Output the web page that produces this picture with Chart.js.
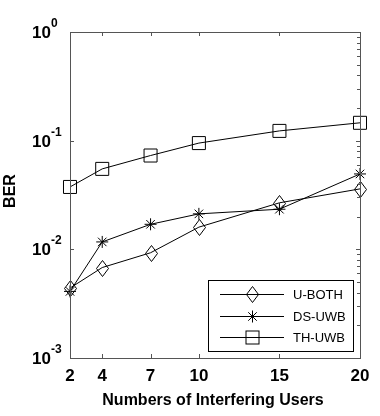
<!DOCTYPE html>
<html>
<head>
<meta charset="utf-8">
<script src="https://cdn.jsdelivr.net/npm/chart.js@4/dist/chart.umd.min.js"></script>
<style>
html,body{margin:0;padding:0;background:#fff;}
#wrap{width:380px;height:416px;position:relative;}
</style>
</head>
<body>
<div id="wrap"><canvas id="c" width="380" height="416"></canvas></div>
<script>
// ---- data ----
const users = [2, 4, 7, 10, 15, 20];
const uBoth = [0.0044, 0.0068, 0.0093, 0.0160, 0.0268, 0.0360];
const dsUwb = [0.0041, 0.0117, 0.0170, 0.0212, 0.0234, 0.0494];
const thUwb = [0.0375, 0.0550, 0.0730, 0.0950, 0.1230, 0.1460];
const seriesNames = ['U-BOTH', 'DS-UWB', 'TH-UWB'];
const xTicks = [2, 4, 7, 10, 15, 20];
const yTickExps = [0, -1, -2, -3];
const xTitle = 'Numbers of Interfering Users';
const yTitle = 'BER';

function pts(vals) { return users.map((u, i) => ({x: u, y: vals[i]})); }

function drawDiamond(ctx, x, y) {
  ctx.beginPath();
  ctx.moveTo(x, y - 8); ctx.lineTo(x + 6, y); ctx.lineTo(x, y + 8); ctx.lineTo(x - 6, y); ctx.closePath();
  ctx.stroke();
}

const diamondPlugin = {
  id: 'diamonds',
  afterDatasetsDraw(chart) {
    const ctx = chart.ctx;
    const meta = chart.getDatasetMeta(0);
    ctx.save();
    ctx.strokeStyle = '#000'; ctx.lineWidth = 1;
    meta.data.forEach(pt => drawDiamond(ctx, Math.round(pt.x) + 0.5, Math.round(pt.y) + 0.5));
    ctx.restore();
  }
};

const framePlugin = {
  id: 'frame',
  afterDraw(chart) {
    const ctx = chart.ctx, a = chart.chartArea;
    const xs = chart.scales.x, ys = chart.scales.y;
    ctx.save();
    ctx.strokeStyle = '#555'; ctx.lineWidth = 1;
    ctx.strokeRect(Math.round(a.left) + 0.5, Math.round(a.top) + 0.5, Math.round(a.right - a.left), Math.round(a.bottom - a.top));
    ctx.beginPath();
    xTicks.forEach(v => {
      const px = Math.round(xs.getPixelForValue(v)) + 0.5;
      ctx.moveTo(px, a.bottom); ctx.lineTo(px, a.bottom - 4);
      ctx.moveTo(px, a.top); ctx.lineTo(px, a.top + 4);
    });
    yTickExps.forEach(e => {
      const py = Math.round(ys.getPixelForValue(Math.pow(10, e))) + 0.5;
      ctx.moveTo(a.left, py); ctx.lineTo(a.left + 4, py);
      ctx.moveTo(a.right, py); ctx.lineTo(a.right - 4, py);
    });
    for (let e = -3; e < 0; e++) {
      for (let m = 2; m <= 9; m++) {
        const py = Math.round(ys.getPixelForValue(m * Math.pow(10, e))) + 0.5;
        ctx.moveTo(a.right, py); ctx.lineTo(a.right - 3, py);
      }
    }
    ctx.stroke();

    ctx.fillStyle = '#000';
    yTickExps.forEach(e => {
      const py = ys.getPixelForValue(Math.pow(10, e));
      ctx.font = 'bold 17px "Liberation Sans", Arial, sans-serif';
      ctx.textAlign = 'right'; ctx.textBaseline = 'alphabetic';
      ctx.fillText('10', 51, py + 6);
      ctx.font = 'bold 12px "Liberation Sans", Arial, sans-serif';
      ctx.textAlign = 'left';
      ctx.fillText(String(e), 51, py - 5);
    });
    ctx.font = 'bold 17px "Liberation Sans", Arial, sans-serif';
    ctx.textAlign = 'center'; ctx.textBaseline = 'alphabetic';
    xTicks.forEach(v => {
      ctx.fillText(String(v), xs.getPixelForValue(v), 381);
    });
    ctx.font = 'bold 16px "Liberation Sans", Arial, sans-serif';
    ctx.fillText(xTitle, 213, 405);
    ctx.save();
    ctx.translate(15, 191);
    ctx.rotate(-Math.PI / 2);
    ctx.textAlign = 'center';
    ctx.fillText(yTitle, 0, 0);
    ctx.restore();

    // legend
    const lx = 208.5, ly = 280.5, lw = 145, lh = 71;
    ctx.fillStyle = '#fff';
    ctx.fillRect(lx, ly, lw, lh);
    ctx.strokeStyle = '#000';
    ctx.strokeRect(lx, ly, lw, lh);
    const rows = [294, 316, 337];
    chart.data.datasets.forEach((ds, i) => {
      const y = rows[i] + 0.5;
      ctx.strokeStyle = '#000'; ctx.lineWidth = 1;
      ctx.beginPath(); ctx.moveTo(220, y); ctx.lineTo(284, y); ctx.stroke();
      const cx = 252.5;
      if (i === 0) {
        drawDiamond(ctx, cx, y);
      } else if (i === 1) {
        ctx.beginPath();
        const r = 6;
        ctx.moveTo(cx - r, y); ctx.lineTo(cx + r, y);
        ctx.moveTo(cx, y - r); ctx.lineTo(cx, y + r);
        const d = r * Math.SQRT1_2;
        ctx.moveTo(cx - d, y - d); ctx.lineTo(cx + d, y + d);
        ctx.moveTo(cx - d, y + d); ctx.lineTo(cx + d, y - d);
        ctx.stroke();
      } else {
        ctx.strokeRect(cx - 6.5, y - 6.5, 13, 13);
      }
      ctx.fillStyle = '#000';
      ctx.font = '13px "Liberation Sans", Arial, sans-serif';
      ctx.textAlign = 'left'; ctx.textBaseline = 'middle';
      ctx.fillText(seriesNames[i], 293, y + 1);
    });
    ctx.restore();
  }
};

new Chart(document.getElementById('c'), {
  type: 'line',
  data: {
    datasets: [
      {label: seriesNames[0], data: pts(uBoth), borderColor: '#000', borderWidth: 1,
       pointRadius: 0, tension: 0},
      {label: seriesNames[1], data: pts(dsUwb), borderColor: '#000', borderWidth: 1, pointStyle: 'star',
       pointRadius: 6, pointBorderColor: '#000', pointBorderWidth: 1, pointBackgroundColor: 'rgba(0,0,0,0)', tension: 0},
      {label: seriesNames[2], data: pts(thUwb), borderColor: '#000', borderWidth: 1, pointStyle: 'rect',
       pointRadius: 9.2, pointBorderColor: '#000', pointBorderWidth: 1, pointBackgroundColor: 'rgba(0,0,0,0)', tension: 0}
    ]
  },
  options: {
    responsive: false,
    animation: false,
    clip: false,
    layout: {padding: {left: 70, top: 32, right: 20, bottom: 58}},
    plugins: {legend: {display: false}, tooltip: {enabled: false}},
    scales: {
      x: {type: 'linear', min: 2, max: 20, display: false},
      y: {type: 'logarithmic', min: 0.001, max: 1, display: false}
    }
  },
  plugins: [diamondPlugin, framePlugin]
});
</script>
</body>
</html>
